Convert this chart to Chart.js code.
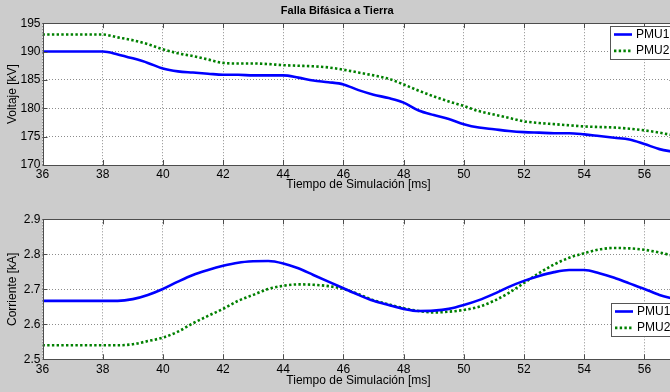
<!DOCTYPE html>
<html>
<head>
<meta charset="utf-8">
<script src="https://cdn.jsdelivr.net/npm/chart.js@4.4.0/dist/chart.umd.min.js"></script>
<style>
    html, body { margin: 0; padding: 0; background: #cccccc; }
    #frame { position: relative; width: 670px; height: 392px; overflow: hidden; background: #cccccc; }
    .panel { position: absolute; left: 0; width: 720px; height: 196px; }
    #voltPanel { top: 0; }
    #currPanel { top: 196px; }
</style>
</head>
<body>
<div id="frame">
    <div class="panel" id="voltPanel"><canvas id="voltChart" width="720" height="196"></canvas></div>
    <div class="panel" id="currPanel"><canvas id="currChart" width="720" height="196"></canvas></div>
</div>
<script>
// Simulation time (ms), shared by both plots
const timeMs = [36, 36.5, 37, 37.5, 38, 38.5, 39, 39.5, 40, 40.5, 41, 41.5, 42, 42.5, 43, 43.5,
    44, 44.5, 45, 45.5, 46, 46.5, 47, 47.5, 48, 48.5, 49, 49.5, 50, 50.5, 51, 51.5, 52, 52.5,
    53, 53.5, 54, 54.5, 55, 55.5, 56, 56.5, 57];

// Voltage [kV]
const voltPMU1 = [190.0, 190.0, 190.0, 190.0, 190.0, 189.5, 188.8, 188.0, 187.0, 186.5, 186.3, 186.1,
    185.9, 185.9, 185.8, 185.8, 185.8, 185.4, 184.9, 184.6, 184.2, 183.2, 182.4, 181.8, 181.0, 179.6,
    178.8, 178.1, 177.2, 176.6, 176.3, 176.0, 175.8, 175.7, 175.6, 175.6, 175.4, 175.1, 174.8, 174.5,
    173.7, 172.8, 172.3];
const voltPMU2 = [193.0, 193.0, 193.0, 193.0, 193.0, 192.5, 192.0, 191.3, 190.4, 189.7, 189.2, 188.6,
    188.0, 187.9, 187.9, 187.8, 187.6, 187.5, 187.4, 187.2, 186.8, 186.3, 185.8, 185.2, 184.2, 183.1,
    182.1, 181.2, 180.4, 179.5, 178.9, 178.3, 177.7, 177.4, 177.2, 177.0, 176.8, 176.7, 176.6, 176.4,
    176.1, 175.7, 175.2];

// Current [kA]
const currPMU1 = [2.667, 2.667, 2.667, 2.667, 2.667, 2.667, 2.672, 2.684, 2.701, 2.722, 2.741, 2.755,
    2.767, 2.776, 2.780, 2.781, 2.774, 2.760, 2.741, 2.722, 2.703, 2.684, 2.667, 2.655, 2.644, 2.638,
    2.639, 2.644, 2.655, 2.669, 2.687, 2.707, 2.724, 2.738, 2.749, 2.755, 2.755, 2.746, 2.733, 2.717,
    2.701, 2.684, 2.672];
const currPMU2 = [2.540, 2.540, 2.540, 2.540, 2.540, 2.540, 2.543, 2.552, 2.562, 2.579, 2.603, 2.624,
    2.644, 2.667, 2.684, 2.701, 2.710, 2.714, 2.713, 2.709, 2.701, 2.686, 2.669, 2.657, 2.646, 2.638,
    2.634, 2.636, 2.641, 2.650, 2.667, 2.690, 2.718, 2.746, 2.771, 2.790, 2.803, 2.814, 2.818, 2.817,
    2.813, 2.805, 2.795];

const seriesNames = ['PMU1', 'PMU2'];
const chartTitle = 'Falla Bifásica a Tierra';
const xTitle = 'Tiempo de Simulación [ms]';

const FONT = "'Liberation Sans', Arial, sans-serif";
const AXIS_COLOR = '#4d4d4d';

function toPoints(values) {
    return timeMs.map((t, i) => ({ x: t, y: values[i] }));
}

// White plot area, MATLAB style box with inward ticks, boxed legend
const matlabAxes = {
    id: 'matlabAxes',
    beforeDraw(chart) {
        const a = chart.chartArea;
        const ctx = chart.ctx;
        ctx.save();
        ctx.fillStyle = '#ffffff';
        ctx.fillRect(a.left, a.top, a.right - a.left, a.bottom - a.top);
        ctx.restore();
    },
    afterDraw(chart, args, opts) {
        const a = chart.chartArea;
        const ctx = chart.ctx;
        const tick = 5;
        ctx.save();
        ctx.strokeStyle = AXIS_COLOR;
        ctx.lineWidth = 1;
        ctx.setLineDash([]);
        ctx.beginPath();
        chart.scales.x.ticks.forEach(t => {
            const px = Math.round(chart.scales.x.getPixelForValue(t.value)) + 0.5;
            ctx.moveTo(px, a.bottom); ctx.lineTo(px, a.bottom - tick);
            ctx.moveTo(px, a.top); ctx.lineTo(px, a.top + tick);
        });
        chart.scales.y.ticks.forEach(t => {
            const py = Math.round(chart.scales.y.getPixelForValue(t.value)) + 0.5;
            ctx.moveTo(a.left, py); ctx.lineTo(a.left + tick, py);
            ctx.moveTo(a.right, py); ctx.lineTo(a.right - tick, py);
        });
        ctx.stroke();
        ctx.strokeRect(Math.round(a.left) + 0.5, Math.round(a.top) + 0.5,
            Math.round(a.right - a.left), Math.round(a.bottom - a.top));

        // legend
        const b = opts.box;
        ctx.fillStyle = '#ffffff';
        ctx.fillRect(b.x, b.y, b.w, b.h);
        ctx.strokeStyle = '#555555';
        ctx.strokeRect(b.x + 0.5, b.y + 0.5, b.w, b.h);
        chart.data.datasets.forEach((ds, i) => {
            const cy = b.y + 8.5 + i * 16.4;
            ctx.strokeStyle = ds.borderColor;
            ctx.lineWidth = ds.borderWidth;
            ctx.setLineDash(ds.borderDash || []);
            ctx.beginPath();
            ctx.moveTo(b.x + 4, cy);
            ctx.lineTo(b.x + 22, cy);
            ctx.stroke();
            ctx.setLineDash([]);
            ctx.fillStyle = '#000000';
            ctx.font = '12px ' + FONT;
            ctx.textBaseline = 'middle';
            ctx.textAlign = 'left';
            ctx.fillText(ds.label, b.x + 26, cy);
        });
        ctx.restore();
    }
};

function makePlot(canvasId, s1, s2, yMin, yMax, yStep, yLabel, opt) {
    const ctx = document.getElementById(canvasId).getContext('2d');
    return new Chart(ctx, {
        type: 'line',
        data: {
            datasets: [{
                label: seriesNames[0],
                data: toPoints(s1),
                borderColor: '#0000ff',
                borderWidth: 2.6,
                pointRadius: 0,
                cubicInterpolationMode: 'monotone'
            }, {
                label: seriesNames[1],
                data: toPoints(s2),
                borderColor: '#008000',
                borderWidth: 2.6,
                borderDash: [2.4, 2.3],
                pointRadius: 0,
                cubicInterpolationMode: 'monotone'
            }]
        },
        options: {
            responsive: false,
            animation: false,
            events: [],
            layout: { padding: { top: opt.padTop, left: 0, right: 45.5, bottom: 0 } },
            scales: {
                x: {
                    type: 'linear',
                    min: 36,
                    max: 57,
                    afterFit: s => { s.height = opt.xHeight; },
                    ticks: {
                        stepSize: 2,
                        includeBounds: false,
                        padding: opt.xTickPad,
                        color: '#000',
                        font: { family: FONT, size: 12 },
                        maxRotation: 0
                    },
                    // grid lines dotted like MATLAB ':'
                    grid: { color: 'rgba(0,0,0,0.45)', drawTicks: false },
                    border: { display: false, dash: [1, 2] },
                    title: {
                        display: true,
                        text: xTitle,
                        color: '#000',
                        font: { family: FONT, size: 12 },
                        padding: { top: 0, bottom: 3.8 }
                    }
                },
                y: {
                    min: yMin,
                    max: yMax,
                    afterFit: s => { s.width = 42.5; },
                    ticks: {
                        stepSize: yStep,
                        padding: 2,
                        color: '#000',
                        font: { family: FONT, size: 12 }
                    },
                    grid: { color: 'rgba(0,0,0,0.45)', drawTicks: false },
                    border: { display: false, dash: [1, 2] },
                    title: {
                        display: true,
                        text: yLabel,
                        color: '#000',
                        font: { family: FONT, size: 12 },
                        padding: { top: 5, bottom: 0 }
                    }
                }
            },
            plugins: {
                legend: { display: false },
                tooltip: { enabled: false },
                title: opt.title ? {
                    display: true,
                    text: opt.title,
                    color: '#000',
                    font: { family: FONT, size: 11, weight: 'bold' },
                    padding: { top: 4, bottom: 6 }
                } : { display: false },
                matlabAxes: { box: opt.legendBox }
            }
        },
        plugins: [matlabAxes]
    });
}

document.addEventListener('DOMContentLoaded', function() {
    makePlot('voltChart', voltPMU1, voltPMU2, 170, 195, 5, 'Voltaje [kV]', {
        title: chartTitle,
        padTop: 0,
        xHeight: 31,
        xTickPad: 2,
        legendBox: { x: 610, y: 26, w: 70, h: 33 }
    });
    makePlot('currChart', currPMU1, currPMU2, 2.5, 2.9, 0.1, 'Corriente [kA]', {
        title: null,
        padTop: 23.3,
        xHeight: 32.7,
        xTickPad: 3.3,
        legendBox: { x: 611, y: 107, w: 70, h: 33 }
    });
});
</script>
</body>
</html>
